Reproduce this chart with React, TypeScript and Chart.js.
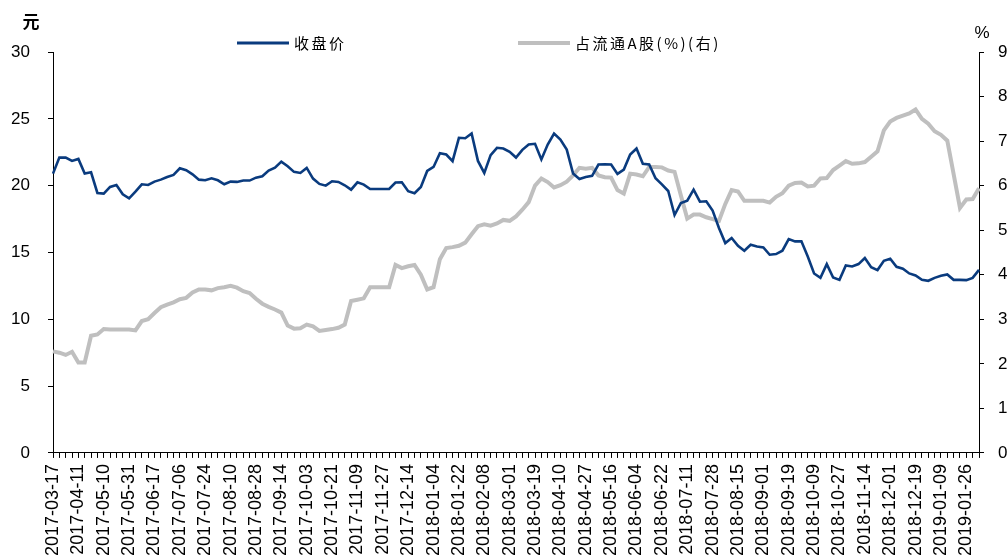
import React, { useEffect, useRef } from 'react';
import { Chart, registerables } from 'chart.js';

Chart.register(...registerables);

// X-axis tick labels (one every 4 data points)
const tickDates = [
  '2017-03-17', '2017-04-11', '2017-05-10', '2017-05-31', '2017-06-17', '2017-07-06',
  '2017-07-24', '2017-08-10', '2017-08-28', '2017-09-14', '2017-10-03', '2017-10-21',
  '2017-11-09', '2017-11-27', '2017-12-14', '2018-01-04', '2018-01-22', '2018-02-08',
  '2018-03-01', '2018-03-19', '2018-04-10', '2018-04-27', '2018-05-16', '2018-06-04',
  '2018-06-22', '2018-07-11', '2018-07-28', '2018-08-15', '2018-09-01', '2018-09-19',
  '2018-10-09', '2018-10-27', '2018-11-14', '2018-12-01', '2018-12-19', '2019-01-09',
  '2019-01-26',
];
const pointsPerLabel = 4;

// 收盘价 (元, left axis)
const closePrice = [
  20.9, 22.1, 22.1, 21.85, 22.0, 20.9, 21.0, 19.45, 19.4, 19.9,
  20.05, 19.35, 19.05, 19.55, 20.1, 20.05, 20.3, 20.45, 20.65, 20.8,
  21.3, 21.15, 20.85, 20.45, 20.4, 20.55, 20.4, 20.1, 20.3, 20.28,
  20.38, 20.38, 20.6, 20.7, 21.13, 21.35, 21.8, 21.45, 21.03, 20.95,
  21.33, 20.53, 20.13, 20.0, 20.33, 20.28, 20.03, 19.7, 20.25, 20.08,
  19.75, 19.75, 19.75, 19.75, 20.23, 20.25, 19.58, 19.43, 19.9, 21.1,
  21.4, 22.43, 22.33, 21.83, 23.58, 23.55, 23.9, 21.85, 20.95, 22.28,
  22.83, 22.78, 22.53, 22.1, 22.68, 23.08, 23.13, 21.96, 23.08, 23.9,
  23.45, 22.7, 20.9, 20.5, 20.65, 20.73, 21.58, 21.6, 21.58, 20.88,
  21.2, 22.33, 22.78, 21.63, 21.58, 20.55, 20.1, 19.6, 17.8, 18.7,
  18.88, 19.7, 18.8, 18.83, 18.13, 16.83, 15.7, 16.08, 15.5, 15.13,
  15.58, 15.45, 15.38, 14.83, 14.88, 15.13, 16.0, 15.83, 15.83, 14.7,
  13.43, 13.1, 14.13, 13.13, 12.95, 14.03, 13.95, 14.13, 14.58, 13.9,
  13.68, 14.38, 14.53, 13.93, 13.78, 13.43, 13.28, 12.95, 12.88, 13.1,
  13.25, 13.35, 12.95, 12.95, 12.93, 13.1, 13.7,
];

// 占流通A股(%) (right axis)
const shareOfFloat = [
  2.28, 2.25, 2.2, 2.27, 2.03, 2.03, 2.63, 2.66, 2.78, 2.77,
  2.77, 2.77, 2.77, 2.75, 2.96, 3.0, 3.14, 3.27, 3.33, 3.38,
  3.45, 3.48, 3.6, 3.67, 3.67, 3.65, 3.7, 3.72, 3.75, 3.71,
  3.63, 3.59, 3.46, 3.35, 3.28, 3.22, 3.15, 2.86, 2.79, 2.8,
  2.88, 2.84, 2.74, 2.76, 2.78, 2.81, 2.88, 3.41, 3.44, 3.47,
  3.72, 3.72, 3.72, 3.72, 4.22, 4.15, 4.19, 4.22, 4.0, 3.67,
  3.72, 4.35, 4.6, 4.62, 4.65, 4.72, 4.91, 5.09, 5.13, 5.1,
  5.15, 5.23, 5.21, 5.31, 5.46, 5.63, 6.0, 6.16, 6.08, 5.96,
  6.01, 6.09, 6.23, 6.4, 6.38, 6.4, 6.23, 6.19, 6.18, 5.9,
  5.82, 6.27, 6.25, 6.21, 6.42, 6.42, 6.41, 6.34, 6.31, 5.78,
  5.26, 5.35, 5.35, 5.29, 5.25, 5.21, 5.59, 5.9, 5.87, 5.66,
  5.66, 5.66, 5.66, 5.62, 5.75, 5.83, 6.0, 6.06, 6.07, 5.98,
  6.0, 6.16, 6.17, 6.35, 6.45, 6.55, 6.49, 6.5, 6.53, 6.65,
  6.77, 7.24, 7.44, 7.52, 7.57, 7.62, 7.71, 7.5, 7.39, 7.22,
  7.14, 7.01, 6.26, 5.5, 5.69, 5.7, 5.94,
];

const seriesNames = ['收盘价', '占流通A股(%)(右)'];
const leftUnit = '元';
const rightUnit = '%';

const BLUE = '#0A3B7E';
const GRAY = '#BFBFBF';
const TICK_FONT = '"Liberation Sans", Arial, sans-serif';
const CJK_FONT = '"Noto Sans CJK SC", sans-serif';

const labels = closePrice.map((_, i) =>
  i % pointsPerLabel === 0 ? tickDates[i / pointsPerLabel] ?? '' : ''
);

const overlayPlugin = {
  id: 'overlay',
  afterDraw(chart: any) {
    const ctx = chart.ctx as CanvasRenderingContext2D;
    ctx.save();
    ctx.fillStyle = '#000';
    ctx.textBaseline = 'middle';
    ctx.textAlign = 'center';
    ctx.font = `bold 17px ${CJK_FONT}`;
    ctx.fillText(leftUnit, 31, 22);
    ctx.font = `17px ${TICK_FONT}`;
    ctx.fillText(rightUnit, 982, 33);

    const items = [
      { x: 237, color: BLUE, width: 3, text: seriesNames[0] },
      { x: 518, color: GRAY, width: 4, text: seriesNames[1] },
    ];
    ctx.textAlign = 'left';
    ctx.font = `15px ${CJK_FONT}`;
    (ctx as any).letterSpacing = '2.5px';
    for (const it of items) {
      ctx.strokeStyle = it.color;
      ctx.lineWidth = it.width;
      ctx.beginPath();
      ctx.moveTo(it.x, 43);
      ctx.lineTo(it.x + 52, 43);
      ctx.stroke();
      ctx.fillStyle = '#000';
      ctx.fillText(it.text, it.x + 57, 43);
    }
    ctx.restore();
  },
};

export default function App() {
  const canvasRef = useRef<HTMLCanvasElement | null>(null);

  useEffect(() => {
    if (!canvasRef.current) return;
    const axisGrid = {
      display: true,
      drawOnChartArea: false,
      drawTicks: true,
      tickLength: 5,
      color: '#000',
      tickColor: '#000',
      lineWidth: 1,
    };
    const chart = new Chart(canvasRef.current, {
      type: 'line',
      data: {
        labels,
        datasets: [
          {
            label: seriesNames[0],
            data: closePrice,
            borderColor: BLUE,
            backgroundColor: BLUE,
            borderWidth: 2.6,
            pointRadius: 0,
            tension: 0,
            yAxisID: 'y',
          },
          {
            label: seriesNames[1],
            data: shareOfFloat,
            borderColor: GRAY,
            backgroundColor: GRAY,
            borderWidth: 4,
            pointRadius: 0,
            tension: 0,
            yAxisID: 'y1',
          },
        ],
      },
      options: {
        animation: false,
        responsive: true,
        maintainAspectRatio: false,
        layout: { padding: { top: 52, left: 11, right: 0, bottom: -2 } },
        plugins: {
          legend: { display: false },
          tooltip: { enabled: false },
        },
        scales: {
          x: {
            type: 'category',
            offset: false,
            grid: { ...axisGrid, offset: false },
            border: { display: true, color: '#000', width: 1 },
            afterFit(scale: any) {
              scale.paddingLeft = 0;
              scale.paddingRight = 0;
            },
            ticks: {
              autoSkip: false,
              minRotation: 90,
              maxRotation: 90,
              padding: 6,
              color: '#000',
              font: { family: TICK_FONT, size: 18 },
            },
          },
          y: {
            position: 'left',
            min: 0,
            max: 30,
            grid: axisGrid,
            border: { display: true, color: '#000', width: 1 },
            afterFit(scale: any) {
              scale.width = 42;
            },
            ticks: {
              stepSize: 5,
              padding: 18,
              color: '#000',
              font: { family: TICK_FONT, size: 17 },
            },
          },
          y1: {
            position: 'right',
            min: 0,
            max: 9,
            grid: axisGrid,
            border: { display: true, color: '#000', width: 1 },
            afterFit(scale: any) {
              scale.width = 29;
            },
            ticks: {
              stepSize: 1,
              padding: 14,
              color: '#000',
              font: { family: TICK_FONT, size: 17 },
            },
          },
        },
      },
      plugins: [overlayPlugin],
    } as any);
    return () => chart.destroy();
  }, []);

  return (
    <div style={{ position: 'absolute', left: 0, top: 0, width: 1008, height: 560, background: '#fff' }}>
      <canvas ref={canvasRef} />
    </div>
  );
}
